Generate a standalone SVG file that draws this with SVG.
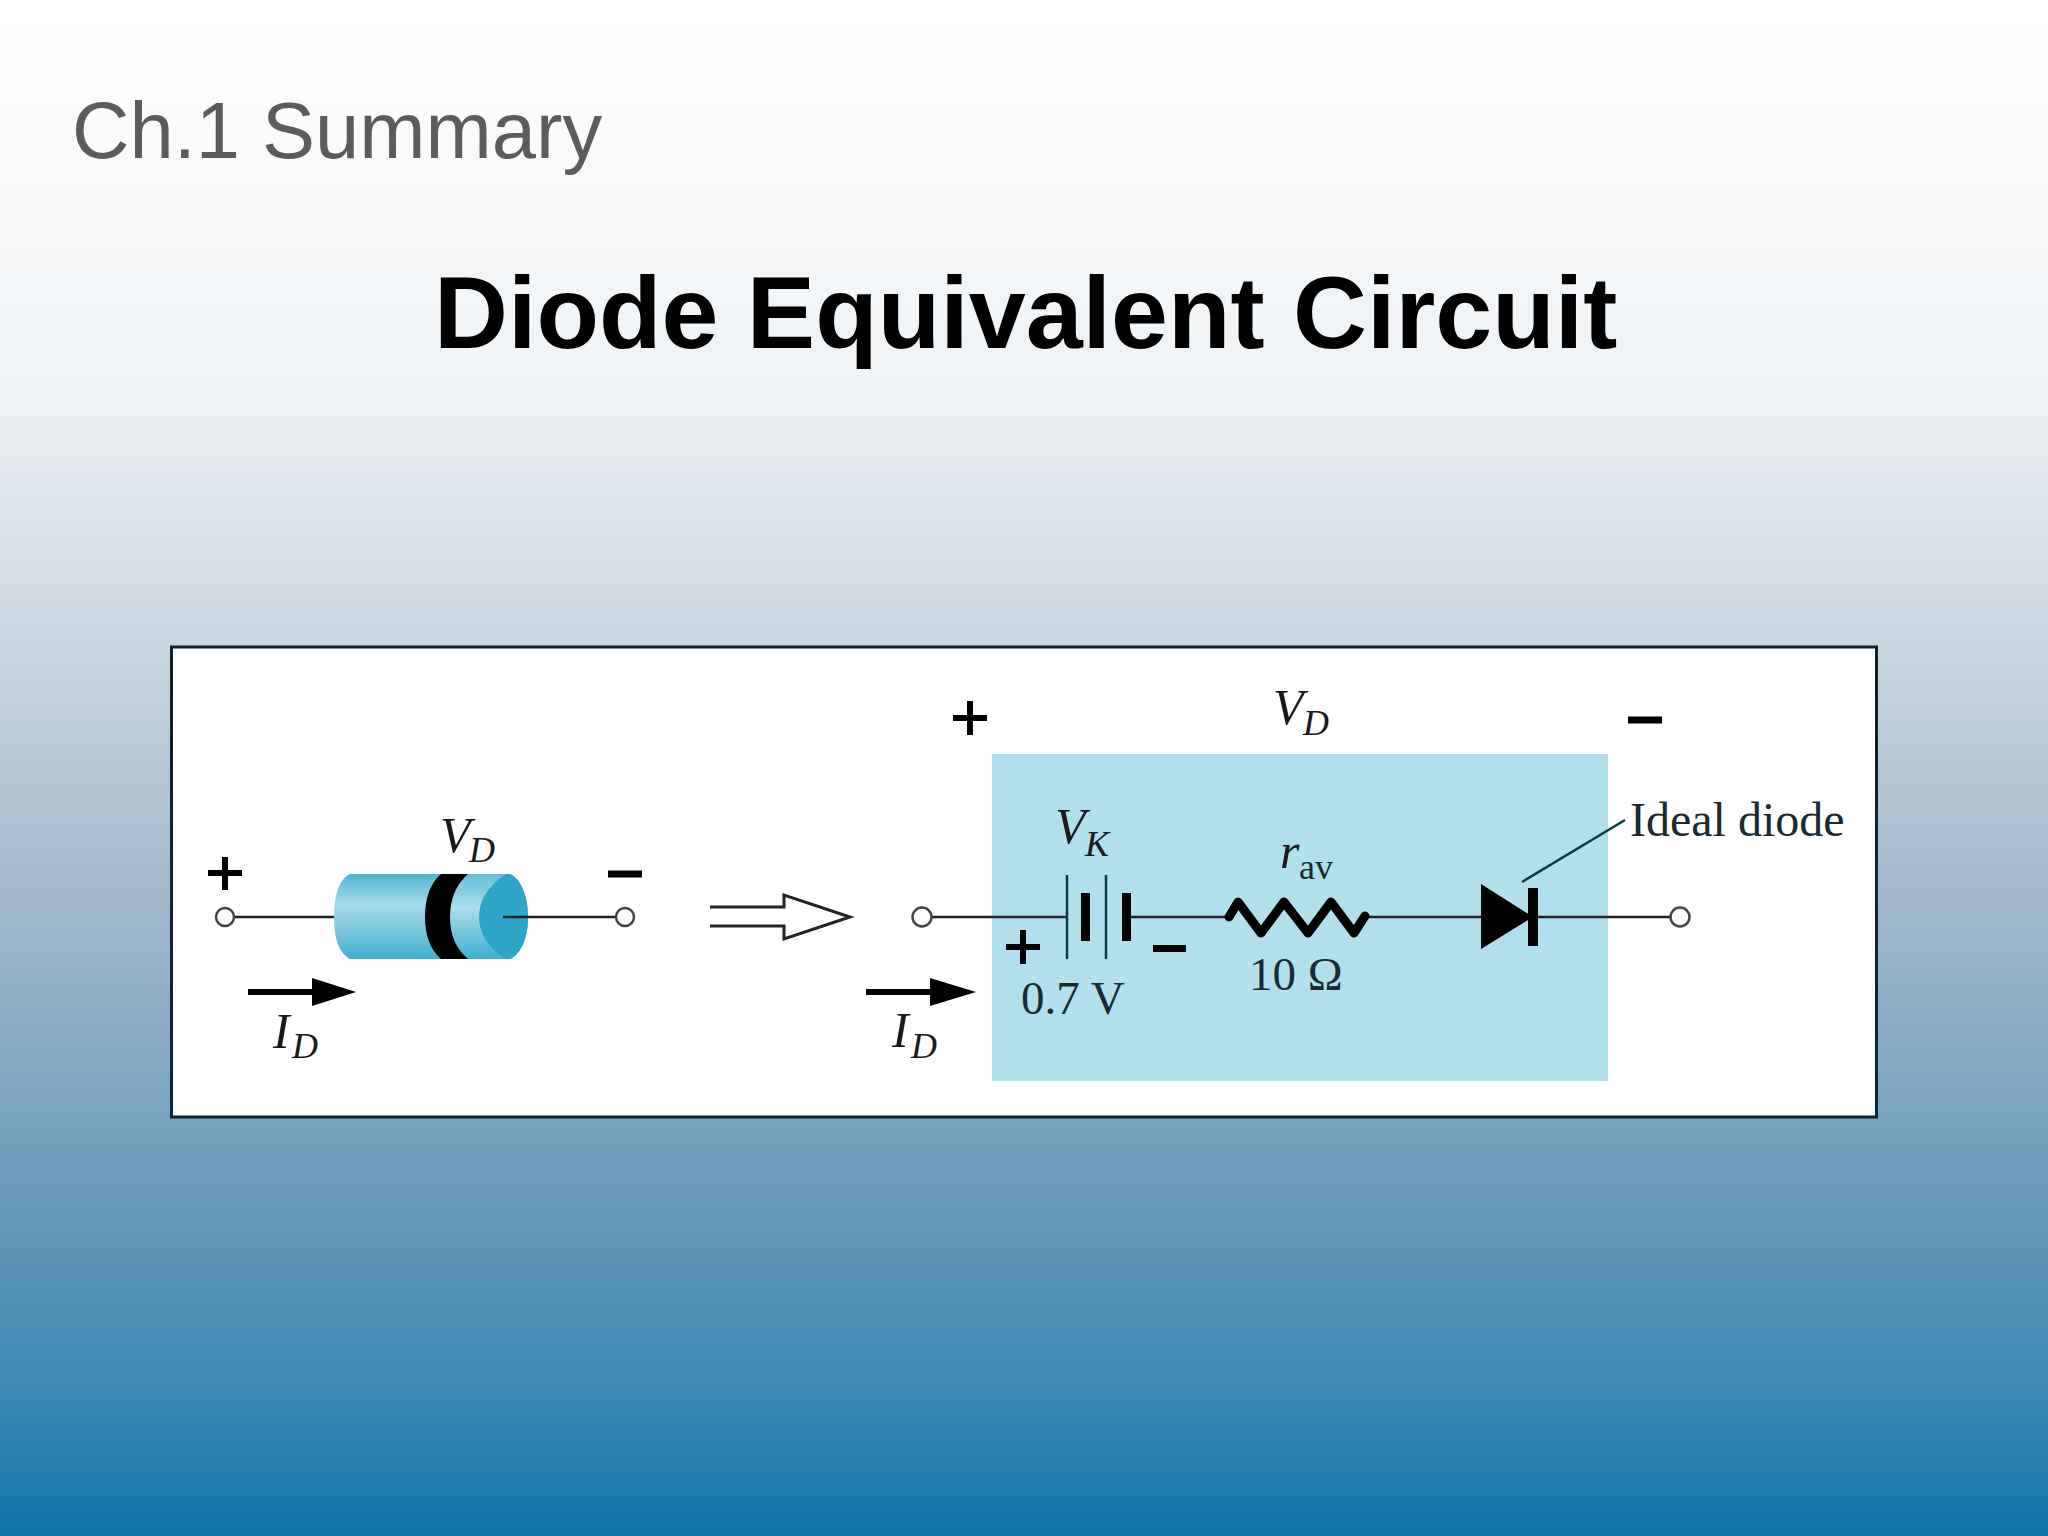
<svg xmlns="http://www.w3.org/2000/svg" width="2048" height="1536" viewBox="0 0 2048 1536">
<defs>
<linearGradient id="bg" x1="0" y1="0" x2="0" y2="1">
<stop offset="0" stop-color="#ffffff"/><stop offset="0.1" stop-color="#f9fafb"/><stop offset="0.26" stop-color="#eef2f5"/><stop offset="0.42" stop-color="#c9d6e0"/><stop offset="0.6" stop-color="#9db7ca"/><stop offset="0.76" stop-color="#6f9dbc"/><stop offset="0.9" stop-color="#3f89b1"/><stop offset="1" stop-color="#0f76a8"/>
</linearGradient>
<linearGradient id="cyl" x1="0" y1="0" x2="0" y2="1">
<stop offset="0" stop-color="#4fb6d2"/><stop offset="0.35" stop-color="#a4d9e8"/><stop offset="0.6" stop-color="#86cde0"/><stop offset="1" stop-color="#3fb0cf"/>
</linearGradient>
<linearGradient id="cyl2" x1="0" y1="0" x2="0" y2="1">
<stop offset="0" stop-color="#62bfd8"/><stop offset="0.4" stop-color="#abdcea"/><stop offset="1" stop-color="#3fb0cf"/>
</linearGradient>
</defs>
<style>
.w{fill:none;stroke:#222;stroke-width:2.5}
.t{fill:#fff;stroke:#444;stroke-width:2.5}
.b{fill:none;stroke:#000;stroke-width:6}
.thin{fill:none;stroke:#0c3a4a;stroke-width:2.5}
.i{font-family:"Liberation Serif",serif;font-style:italic;fill:#1a1a1a}
.r{font-family:"Liberation Serif",serif;fill:#1a2a30}
.big{font-size:50px}.sub{font-size:36px}
</style>
<rect id="background" width="2048" height="1536" fill="url(#bg)"/>
<text id="subtitle" x="72" y="158" font-family="Liberation Sans, sans-serif" font-size="79.500" fill="#5c5c5c">Ch.1 Summary</text>
<text id="title" x="434" y="348" font-family="Liberation Sans, sans-serif" font-size="102.400" font-weight="700" fill="#000">Diode Equivalent Circuit</text>
<rect id="frame" x="171.500" y="647" width="1705" height="470" fill="#fff" stroke="#10222c" stroke-width="3"/>
<rect id="equivalent-box" x="992" y="754" width="616" height="327" fill="#b2dfec"/>

<g id="connectors">
<path class="w" d="M234 917H340"/>
<path class="w" d="M931 917H1066M1126 917H1228M1362 917H1482M1535 917H1671"/>
<path class="thin" d="M1522 882L1625 820"/>
<path fill="none" stroke="#222" stroke-width="3" d="M710 907H784V895L850 917L784 939V926H710"/>
<path class="b" d="M248 992H315"/><path d="M356 992L312 978V1006Z"/>
<path class="b" d="M866 992H935"/><path d="M976 992L930 978V1006Z"/>
</g>

<g id="diode-package">
<path d="M350 874H510C522 880 528 898 528 917C528 936 522 953 510 959H350C338 953 334 936 334 917C334 898 338 880 350 874Z" fill="url(#cyl)"/>
<path d="M441 874H510C522 880 528 898 528 917C528 936 522 953 510 959H441Q425 945 425 917Q425 888 441 874Z" fill="url(#cyl2)"/>
<path d="M506 874H510C522 880 528 898 528 917C528 936 522 953 510 959H506C488 948 479 934 479 917C479 900 488 886 506 874Z" fill="#2fa6c8"/>
<path d="M441 874H468Q450 890 450 917Q450 944 468 959H441Q425 945 425 917Q425 888 441 874Z" fill="#000"/>
<path class="w" d="M503 917H615"/>
</g>

<g id="terminal-left"><circle class="t" cx="225" cy="917" r="9"/></g>
<g id="terminal-mid"><circle class="t" cx="625" cy="917" r="9"/></g>
<g id="terminal-input"><circle class="t" cx="922" cy="917" r="9.500"/></g>
<g id="terminal-output"><circle class="t" cx="1680" cy="917" r="9.500"/></g>

<g id="battery">
<path class="thin" d="M1067 875V959M1106 875V959"/>
<rect x="1081" y="893" width="9" height="48"/>
<rect x="1122" y="893" width="9" height="48"/>
</g>
<g id="resistor">
<path d="M1229 917L1238 902L1261 933L1284 902L1308 933L1331 902L1354 933L1365 916" fill="none" stroke="#000" stroke-width="9" stroke-linejoin="round" stroke-linecap="round"/>
</g>
<g id="ideal-diode">
<path d="M1481 884L1533 917L1481 949Z" fill="#000"/>
<rect x="1528" y="888" width="10" height="58"/>
</g>

<g id="signs">
<path class="b" d="M208 873H242M225 857V890"/>
<path d="M608 870.500H642V877.500H608Z"/>
<path class="b" d="M953 718H987M970 701V735"/>
<path d="M1628 716.500H1662V723.500H1628Z"/>
<path class="b" d="M1006 947H1040M1023 930V964"/>
<path d="M1153 945H1186V952H1153Z"/>
</g>

<g id="labels">
<text class="i big" x="440" y="852">V</text><text class="i sub" x="469" y="862">D</text>
<text class="i big" x="273" y="1048">I</text><text class="i sub" x="292" y="1058">D</text>
<text class="i big" x="1273" y="724">V</text><text class="i sub" x="1303" y="735">D</text>
<text class="i big" x="1055" y="843">V</text><text class="i sub" x="1085" y="856">K</text>
<text class="i big" x="892" y="1047">I</text><text class="i sub" x="911" y="1058">D</text>
<text class="i big" x="1280" y="868">r</text><text class="r sub" x="1299" y="879">av</text>
<text class="r" x="1021" y="1014" font-size="47">0.7 V</text>
<text class="r" x="1249" y="990" font-size="47">10 Ω</text>
<text class="r" x="1630" y="836" font-size="48">Ideal diode</text>
</g>
</svg>
